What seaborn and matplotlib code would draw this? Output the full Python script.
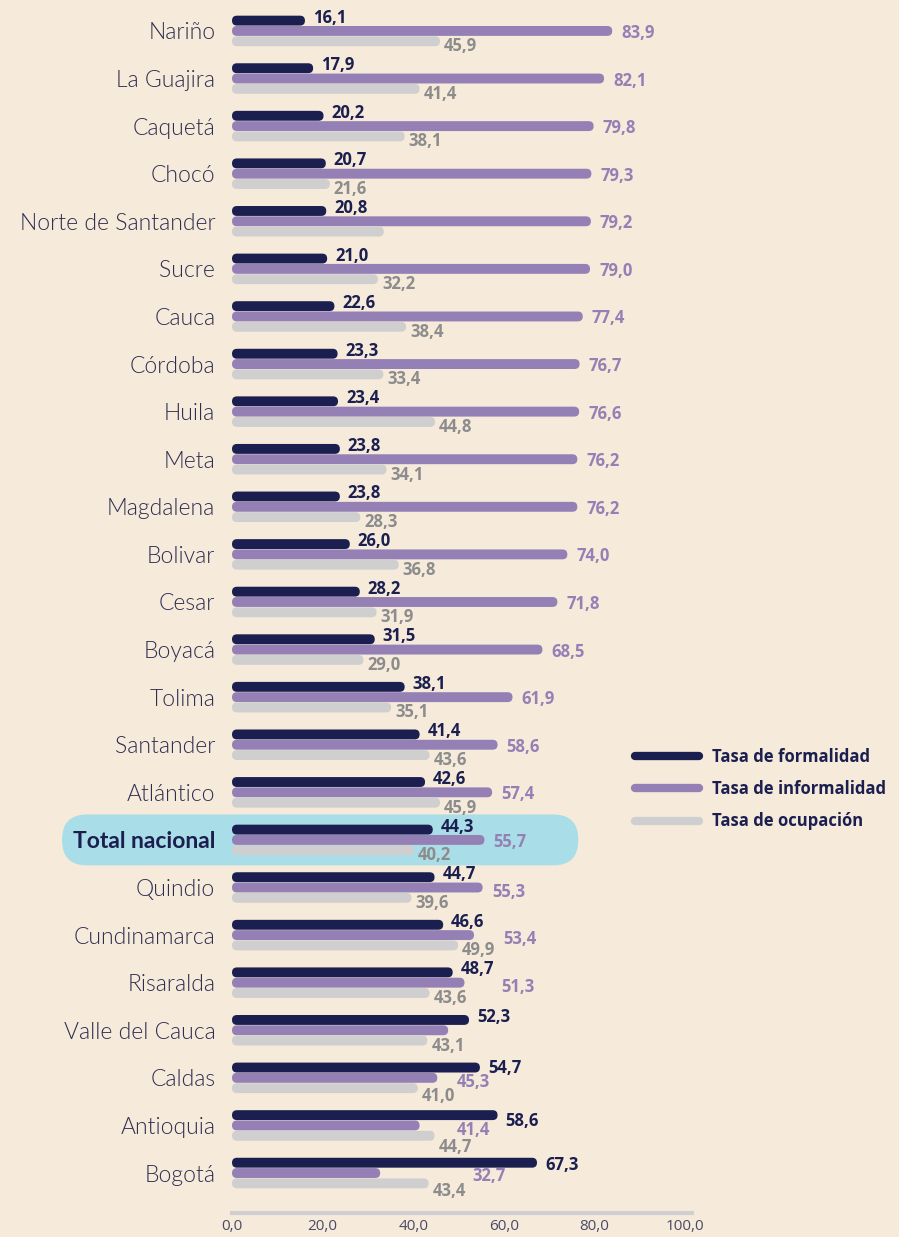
import matplotlib
matplotlib.use("Agg")
import matplotlib.pyplot as plt
from matplotlib.patches import FancyBboxPatch
from matplotlib.lines import Line2D
import pandas as pd
import seaborn as sns

departamentos = ["Nariño", "La Guajira", "Caquetá", "Chocó", "Norte de Santander", "Sucre",
                 "Cauca", "Córdoba", "Huila", "Meta", "Magdalena", "Bolivar", "Cesar", "Boyacá",
                 "Tolima", "Santander", "Atlántico", "Total nacional", "Quindio", "Cundinamarca",
                 "Risaralda", "Valle del Cauca", "Caldas", "Antioquia", "Bogotá"]
formalidad = [16.1, 17.9, 20.2, 20.7, 20.8, 21.0, 22.6, 23.3, 23.4, 23.8, 23.8, 26.0, 28.2, 31.5,
              38.1, 41.4, 42.6, 44.3, 44.7, 46.6, 48.7, 52.3, 54.7, 58.6, 67.3]
informalidad = [83.9, 82.1, 79.8, 79.3, 79.2, 79.0, 77.4, 76.7, 76.6, 76.2, 76.2, 74.0, 71.8, 68.5,
                61.9, 58.6, 57.4, 55.7, 55.3, 53.4, 51.3, 47.7, 45.3, 41.4, 32.7]
ocupacion = [45.9, 41.4, 38.1, 21.6, 33.5, 32.2, 38.4, 33.4, 44.8, 34.1, 28.3, 36.8, 31.9, 29.0,
             35.1, 43.6, 45.9, 40.2, 39.6, 49.9, 43.6, 43.1, 41.0, 44.7, 43.4]
series = ["Tasa de formalidad", "Tasa de informalidad", "Tasa de ocupación"]

# labels that the original leaves out
sin_etiqueta = {(1, "Valle del Cauca"), (2, "Norte de Santander")}
# purple labels moved by hand in the original: x in data units, shift down in px
mover_info = {"Quindio": (57.4, 4), "Cundinamarca": (59.8, 4), "Risaralda": (59.4, 4),
              "Caldas": (49.7, 4), "Antioquia": (49.7, 5), "Bogotá": (53.0, 3)}
# rows where the other labels sit lower too (px)
bajar = {"Antioquia": (6, 11), "Bogotá": (2, 8), "Caldas": (0, 8)}

colores = ["#1b1f4f", "#9580b5", "#cfcfcf"]
colores_txt = ["#1b1f4f", "#9580b5", "#8c8c8c"]
fondo = "#f6eadb"

df = pd.DataFrame({
    "dep": departamentos * 3,
    "serie": [s for s in series for _ in departamentos],
    "valor": formalidad + informalidad + ocupacion,
})

sns.set_theme(style="white")
plt.rcParams["font.family"] = ["Lato", "DejaVu Sans"]

fig = plt.figure(figsize=(8.99, 12.37), dpi=100, facecolor=fondo)
ax = fig.add_axes([232 / 899, 1 - 1213 / 1237, 460 / 899, 1213 / 1237])
ax.set_facecolor(fondo)

sns.barplot(data=df, y="dep", x="valor", hue="serie", palette=colores, orient="h",
            width=0.65, gap=0.04, saturation=1, legend=False, ax=ax)

ax.set_xlim(0, 101.5)
ax.set_ylim(24.84, -0.65)

# px -> data unit factors, used for the rounded ends
px_x = 101.5 / 460
px_y = (24.84 + 0.65) / 1213
aspecto = px_y / px_x

for ci, cont in enumerate(ax.containers):
    for i, bar in enumerate(cont):
        x0, y0 = bar.get_x(), bar.get_y()
        w, h = bar.get_width(), bar.get_height()
        r = h / aspecto / 2
        ax.add_patch(FancyBboxPatch((x0, y0), w, h,
                                    boxstyle=f"round,pad=0,rounding_size={r}",
                                    mutation_aspect=aspecto, facecolor=colores[ci],
                                    edgecolor="none", zorder=3))
        bar.set_visible(False)

        dep = departamentos[i]
        if (ci, dep) in sin_etiqueta:
            continue
        yc = y0 + h / 2
        if ci == 0:
            dy = bajar[dep][0] if dep in bajar else -3
            xt, yt = w + 8 * px_x, yc + dy * px_y
        elif ci == 1:
            if dep in mover_info:
                xt, dy = mover_info[dep]
            else:
                xt, dy = w + 9 * px_x, 2
            yt = yc + dy * px_y
        else:
            dy = bajar[dep][1] if dep in bajar else 5
            xt, yt = w + 4 * px_x, yc + dy * px_y
        ax.text(xt, yt, f"{w:.1f}".replace(".", ","), color=colores_txt[ci],
                fontsize=12, fontweight="bold", family=["Open Sans", "DejaVu Sans"],
                ha="left", va="center", zorder=4)

# highlighted row (below the axis artists, which sit at zorder 0.5 here)
k = departamentos.index("Total nacional")
ax.add_patch(FancyBboxPatch((-37.5, k - 0.535), 113.9, 1.07,
                            boxstyle=f"round,pad=0,rounding_size={25 * px_x}",
                            mutation_aspect=aspecto, facecolor="#a9dde7", edgecolor="none",
                            clip_on=False, zorder=0.2))

ax.set_xlabel("")
ax.set_ylabel("")
ax.set_xticks([0, 20, 40, 60, 80, 100])
ax.set_xticklabels(["0,0", "20,0", "40,0", "60,0", "80,0", "100,0"], color="#4a4a66",
                   fontsize=11, family=["Open Sans", "DejaVu Sans"])
ax.set_yticks(range(len(departamentos)))
ax.set_yticklabels(departamentos, fontsize=16.5, color="#2e2e50", fontweight=300)
ax.tick_params(axis="x", length=0, pad=4)
ax.tick_params(axis="y", length=0, pad=12)
for lbl in ax.get_yticklabels():
    if lbl.get_text() == "Total nacional":
        lbl.set_fontweight("bold")
        lbl.set_color("#1b1f4f")

for s in ["top", "right", "left"]:
    ax.spines[s].set_visible(False)
ax.spines["bottom"].set_color("#cfcfcf")
ax.spines["bottom"].set_linewidth(3)

handles = [Line2D([0], [0], color=c, lw=6, solid_capstyle="round") for c in colores]
fig.legend(handles, series, loc="upper left", bbox_to_anchor=(620 / 899, 1 - 733 / 1237),
           frameon=False, handlelength=3.85, handletextpad=0.75, labelspacing=0.85,
           prop={"family": ["Open Sans", "DejaVu Sans"], "weight": "bold", "size": 12},
           labelcolor="#1b1f4f")

fig.savefig("out.png", dpi=100, facecolor=fondo)
